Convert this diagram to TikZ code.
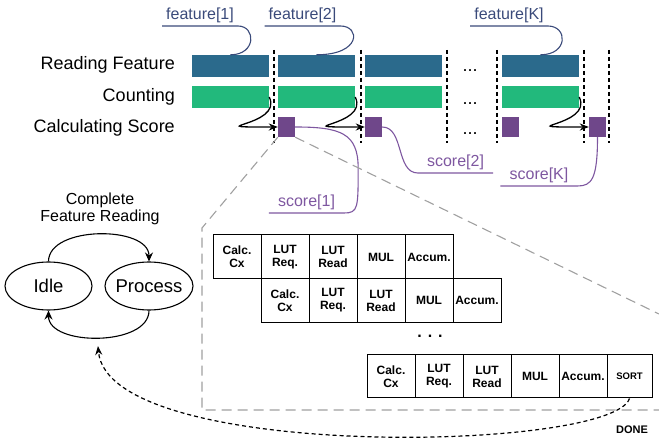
\documentclass[tikz,border=0pt]{standalone}
\usepackage{fontspec}
\setmainfont{Liberation Sans}
\usetikzlibrary{arrows.meta,positioning,shapes.geometric}

\definecolor{readblue}{HTML}{2B6A8C}
\definecolor{countgreen}{HTML}{22B97C}
\definecolor{scorepurple}{HTML}{6F478A}
\definecolor{scoretext}{HTML}{7E57A0}
\definecolor{featnavy}{HTML}{3A4A7A}
\definecolor{zoomgray}{HTML}{A0A0A0}

\begin{document}
\begin{tikzpicture}[x=1pt,y=-1pt,
    readbar/.style={fill=readblue, minimum width=77pt, minimum height=22pt, inner sep=0pt},
    countbar/.style={fill=countgreen, minimum width=77pt, minimum height=22pt, inner sep=0pt},
    scorebox/.style={fill=scorepurple, minimum width=17pt, minimum height=20pt, inner sep=0pt},
    rowlabel/.style={anchor=east, font=\fontsize{18}{20}\selectfont, text height=13pt, text depth=4pt, inner sep=0pt},
    featlabel/.style={anchor=south, text=featnavy, font=\fontsize{16}{18}\selectfont, text depth=0pt, inner ysep=6pt, inner xsep=4pt},
    scorelabel/.style={anchor=south, text=scoretext, font=\fontsize{16}{18}\selectfont, text depth=0pt, inner ysep=6pt, inner xsep=9pt},
    featline/.style={draw=featnavy, line width=1.1pt},
    scoreline/.style={draw=scoretext, line width=1.1pt},
    curl/.style={line width=1.3pt, -{Stealth[length=9pt,width=7pt]}},
    timesep/.style={line width=1.1pt, dash pattern=on 4pt off 3pt},
    zoomline/.style={draw=zoomgray, line width=1.1pt, dash pattern=on 10pt off 6pt},
    tablecell/.style={draw, line width=1pt, minimum width=48pt, minimum height=44pt, inner sep=1pt, align=center, font=\fontsize{12}{13}\selectfont\bfseries},
    fsmstate/.style={draw, ellipse, line width=1.1pt, minimum width=88pt, minimum height=48pt, inner sep=0pt, font=\fontsize{18.5}{20}\selectfont},
    fsmarrow/.style={line width=1.1pt, -{Stealth[length=9pt,width=8pt]}}
  ]
    \def \halfbar {38.5}
    \def \cellw {48}
    \useasboundingbox (0,0) rectangle (659,443);

    % timeline
    \node[rowlabel] (lblread) at (175,65.5) {Reading Feature};
    \node[rowlabel] (lblcount) at (175,97.5) {Counting};
    \node[rowlabel] (lblscore) at (175,128.5) {Calculating Score};
    \foreach \s [count=\i] in {192,278,365,502}
    {
      \node[readbar] (rf\i) at (\s+\halfbar,66) {};
      \node[countbar] (ct\i) at (\s+\halfbar,97) {};
    }
    \foreach \s [count=\i] in {278,365,502,589}
      \node[scorebox] (sq\i) at (\s+8.5,127) {};
    \foreach \x in {274,361,447,497,584,609}
      \draw[timesep] (\x,50) -- (\x,143);
    \foreach \y [count=\i] in {71,104,134}
      \node[font=\fontsize{18}{20}\selectfont] (dots\i) at (470,\y) {...};
    \foreach \i in {1,2,4}
      \draw[curl] (ct\i.east) .. controls +(15,30) and +(-85,0) .. (sq\i.west);

    % feature inputs
    \foreach \t/\x/\b/\c/\d in {{feature[1]}/200/1/18/26, {feature[2]}/302.5/2/20/45, {feature[K]}/509/4/20/28}
    {
      \node[featlabel] (ft\b) at (\x,26) {\t};
      \draw[featline] (ft\b.south west) -- (ft\b.south east) .. controls +(\c,0) and +(\d,0) .. (rf\b.north);
    }

    % score outputs
    \node[scorelabel] (sc1) at (306.5,213) {score[1]};
    \node[scorelabel] (sc2) at (455.5,173) {score[2]};
    \node[scorelabel] (sc3) at (539,186) {score[K]};
    \draw[scoreline] (sc1.south west) -- (sc1.south east) .. controls +(14,0) and +(0,40) .. ++(14,-45)
      .. controls +(0,-35) and +(45,0) .. (sq1.east);
    \draw[scoreline] (sq2.east) .. controls +(22,0) and +(-22,0) .. (sc2.south west) -- (sc2.south east);
    \draw[scoreline] (sq4.south) .. controls +(0,42) and +(14,0) .. (sc3.south east) -- (sc3.south west);

    % zoom frame
    \coordinate (ztop) at (202,228);
    \coordinate (zbot) at (202,410);
    \coordinate (zright) at (659,410);
    \coordinate (zedge) at (659,314);
    \draw[zoomline] (sq1.south west) -- (ztop) -- (zbot) -- (zright);
    \draw[zoomline] (sq1.south east) -- (zedge);

    % pipeline
    \foreach \t [count=\i] in {{Calc.\\Cx},{LUT\\Req.},{LUT\\Read},MUL,Accum.}
    {
      \node[tablecell] (ra\i) at ({213+\cellw*(\i-0.5)},257) {\t};
      \node[tablecell] (rb\i) at ({261+\cellw*(\i-0.5)},300.5) {\t};
      \node[tablecell, minimum height=43pt] (rc\i) at ({367+\cellw*(\i-0.5)},376.5) {\t};
    }
    \node[tablecell, minimum height=43pt, minimum width=45pt, right=-1pt of rc5,
      font=\fontsize{9.5}{11}\selectfont\bfseries] (rc6) {SORT};
    \node[font=\fontsize{16}{18}\selectfont\bfseries] (rowdots) at (430,336) {. . .};
    \node[font=\fontsize{11}{12}\selectfont\bfseries] (done) at (632,430) {DONE};

    % state machine
    \node[align=center, font=\fontsize{16}{17}\selectfont] (trig) at (100,209) {Complete\\Feature Reading};
    \node[fsmstate, minimum width=87pt] (idle) at (48.5,286) {Idle};
    \node[fsmstate] (process) at (149,286) {\makebox[0pt]{Process}};
    \draw[fsmarrow] (idle.north) .. controls +(0,-36) and +(0,-36) .. (process.north);
    \draw[fsmarrow] (process.south) .. controls +(0,36) and +(0,36) .. (idle.south);

    \coordinate (back) at (98,346);
    \draw[line width=1.2pt, dash pattern=on 4pt off 3pt, -{Stealth[length=9pt,width=7pt]}]
      (rc6.south) .. controls (612,452) and (108,462) .. (back);
\end{tikzpicture}
\end{document}
